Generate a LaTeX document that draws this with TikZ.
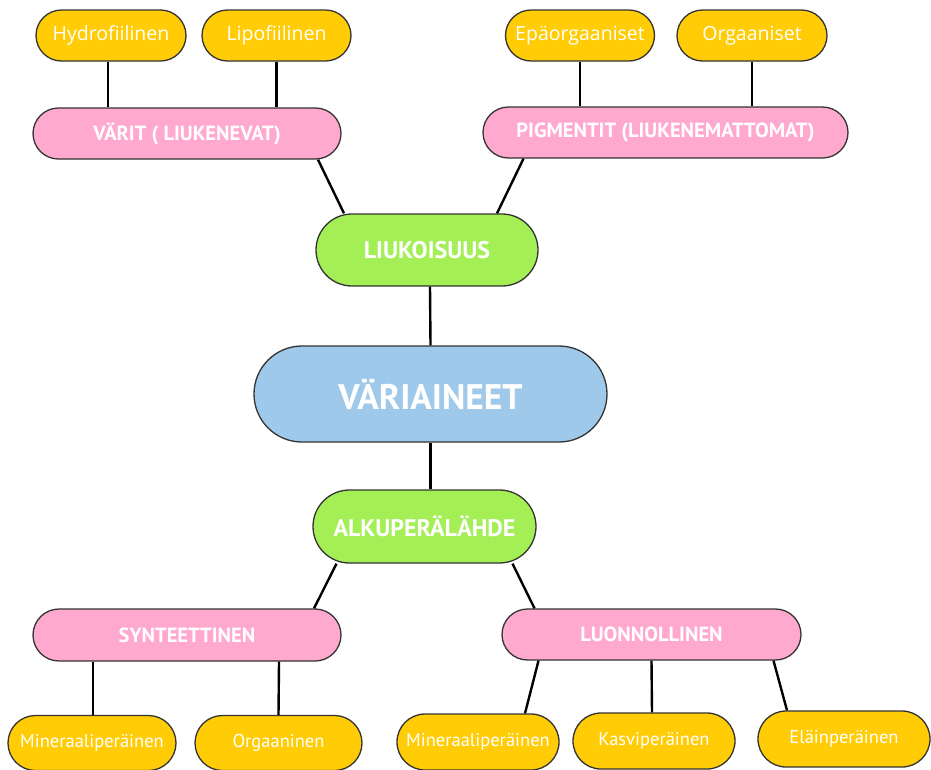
\documentclass[tikz,border=0pt]{standalone}
\usepackage{fontspec}
\setmainfont{PT Sans}
\newfontfamily\topfont{Open Sans}
\usetikzlibrary{shapes.misc}
\definecolor{leafyellow}{HTML}{FFCC06}
\definecolor{branchpink}{HTML}{FFA9CF}
\definecolor{midgreen}{HTML}{A4EF55}
\definecolor{rootblue}{HTML}{9FC9EA}
\tikzstyle{pill}=[rounded rectangle,draw=black!80,line width=1.3pt,text=white,inner sep=0pt]
\tikzstyle{leaf}=[pill,fill=leafyellow,minimum height=51pt,font=\fontsize{18.5}{22}\selectfont]
\tikzstyle{topleaf}=[leaf,font=\topfont\fontsize{19.5}{23}\selectfont]
\tikzstyle{branch}=[pill,fill=branchpink,minimum height=51pt,font=\bfseries\fontsize{20.5}{24}\selectfont]
\tikzstyle{mid}=[pill,fill=midgreen,minimum width=222pt,minimum height=72pt,font=\bfseries\fontsize{24}{28}\selectfont]
\tikzstyle{link}=[line width=2.4pt,black]

\begin{document}
\begin{tikzpicture}[x=1pt,y=-1pt]
\useasboundingbox (0,0) rectangle (931,769);
\node(hydro)[topleaf,minimum width=150pt] at (111,35.5){Hydrofiilinen};
\node(lipo)[topleaf,minimum width=149pt] at (276.5,35.5){Lipofiilinen};
\node(epaorg)[topleaf,minimum width=149pt] at (580,35.5){Epäorgaaniset};
\node(org)[topleaf,minimum width=150pt] at (752,35.5){Orgaaniset};
\node(varit)[branch,minimum width=308pt] at (187,133.5){VÄRIT ( LIUKENEVAT)};
\node(pigm)[branch,minimum width=365pt] at (665.5,132.5){PIGMENTIT (LIUKENEMATTOMAT)};
\node(liuk)[mid] at (427,250){LIUKOISUUS};
\node(main)[pill,fill=rootblue,minimum width=353pt,minimum height=96pt,font=\bfseries\fontsize{35.5}{40}\selectfont] at (430.5,394){VÄRIAINEET};
\node(alku)[mid,minimum width=223pt,minimum height=73pt] at (424.5,526.5){ALKUPERÄLÄHDE};
\node(synt)[branch,minimum width=308pt,minimum height=52pt] at (187,635){SYNTEETTINEN};
\node(luon)[branch,minimum width=299pt] at (651.5,634.5){LUONNOLLINEN};
\node(minl)[leaf,minimum width=168pt,minimum height=55pt] at (92,743){Mineraaliperäinen};
\node(orgn)[leaf,minimum width=167pt,minimum height=55pt] at (278.5,743){Orgaaninen};
\node(minr)[leaf,minimum width=162pt,minimum height=56pt] at (478,742){Mineraaliperäinen};
\node(kasvi)[leaf,minimum width=162pt,minimum height=56pt] at (654,741){Kasviperäinen};
\node(elain)[leaf,minimum width=172pt,minimum height=56pt] at (844,739){Eläinperäinen};
% links
\draw[link]([xshift=-3pt]hydro.south)--([xshift=-79pt]varit.north);
\draw[link](lipo.south)--([xshift=89.5pt]varit.north);
\draw[link](epaorg.south)--([xshift=-85.5pt]pigm.north);
\draw[link](org.south)--([xshift=86.5pt]pigm.north);
\draw[link]([xshift=131pt]varit.south)--([xshift=-83pt]liuk.north);
\draw[link]([xshift=-142pt]pigm.south)--([xshift=70pt]liuk.north);
\draw[link]([xshift=3pt]liuk.south)--(main.north);
\draw[link](main.south)--([xshift=6pt]alku.north);
\draw[link]([xshift=-88pt]alku.south)--([xshift=127pt]synt.north);
\draw[link]([xshift=88pt]alku.south)--([xshift=-117pt]luon.north);
\draw[link]([xshift=-94pt]synt.south)--([xshift=1pt]minl.north);
\draw[link]([xshift=92pt]synt.south)--(orgn.north);
\draw[link]([xshift=-113pt]luon.south)--([xshift=47pt]minr.north);
\draw[link](luon.south)--([xshift=-2pt]kasvi.north);
\draw[link]([xshift=122pt]luon.south)--([xshift=-57pt]elain.north);
\end{tikzpicture}
\end{document}
